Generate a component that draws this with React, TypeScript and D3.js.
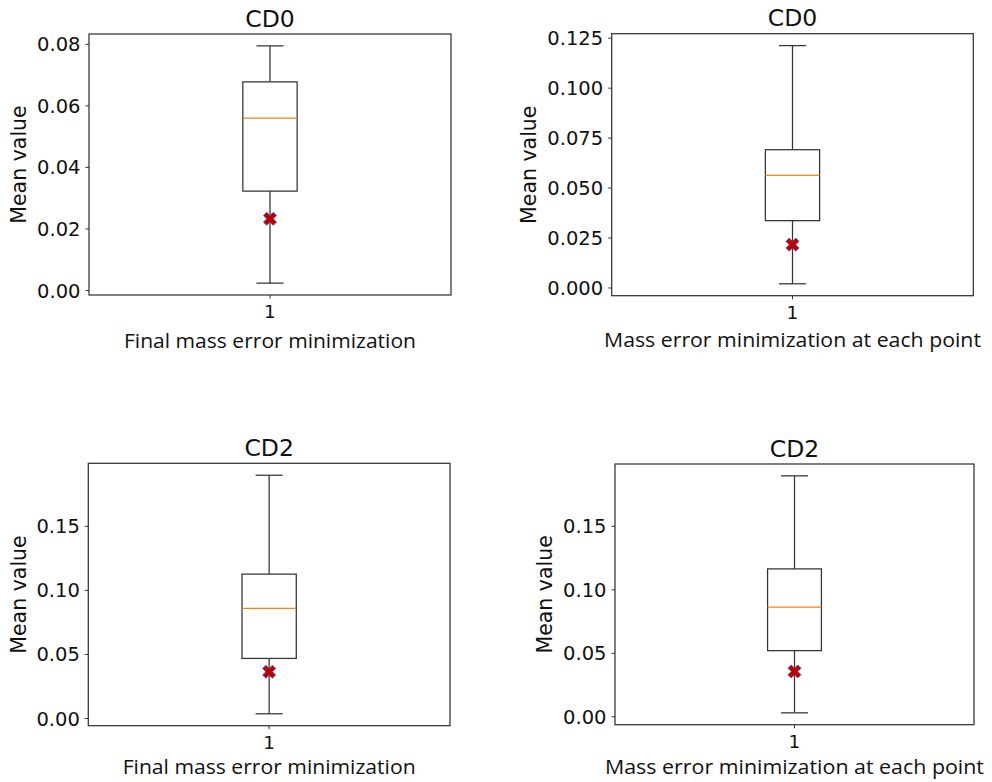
import React from "react";
import * as d3 from "d3";

// ---- data ----
const titles = ["CD0", "CD0", "CD2", "CD2"];
const xLabels = [
  "Final mass error minimization",
  "Mass error minimization at each point",
  "Final mass error minimization",
  "Mass error minimization at each point",
];
const categories = ["1"];
const whiskerLow = [0.0024, 0.0021, 0.0037, 0.0031];
const q1 = [0.0323, 0.0337, 0.0469, 0.0521];
const median = [0.056, 0.0564, 0.086, 0.0864];
const q3 = [0.0678, 0.0692, 0.1127, 0.1165];
const whiskerHigh = [0.0795, 0.1213, 0.1899, 0.1898];
const meanMarker = [0.0233, 0.0217, 0.0365, 0.0357];
const yTicks = [
  [0, 0.02, 0.04, 0.06, 0.08],
  [0, 0.025, 0.05, 0.075, 0.1, 0.125],
  [0, 0.05, 0.1, 0.15],
  [0, 0.05, 0.1, 0.15],
];
const yTickFormats = [".2f", ".3f", ".2f", ".2f"];

// ---- layout ----
const frames = [
  { x0: 89, x1: 451, y0: 34, y1: 295, yLabX: 26, xLabDy: 52.7, xLabLen: 292 },
  { x0: 611.7, x1: 973.3, y0: 33.7, y1: 295.7, yLabX: 536, xLabDy: 51.5, xLabLen: 377 },
  { x0: 88.3, x1: 450, y0: 463.3, y1: 725.7, yLabX: 25.7, xLabDy: 48.5, xLabLen: 293 },
  { x0: 615, x1: 974, y0: 464, y1: 724.7, yLabX: 552, xLabDy: 49, xLabLen: 379 },
];

const LINE = "#333";
const SW = 1.25;

function Panel({ i }: { i: number }) {
  const f = frames[i];
  const lo = whiskerLow[i];
  const hi = whiskerHigh[i];
  const pad = (hi - lo) * 0.05;
  const y = d3.scaleLinear().domain([lo - pad, hi + pad]).range([f.y1, f.y0]);
  const x = d3.scaleLinear().domain([0.5, 1.5]).range([f.x0, f.x1]);
  const fmt = d3.format(yTickFormats[i]);
  const cx = x(1);
  const bw = x(1 + 0.075) - x(1 - 0.075);
  const cw = x(1 + 0.0375) - x(1 - 0.0375);
  const marker = d3.symbol(d3.symbolCross, 106)() as string;
  const midX = (f.x0 + f.x1) / 2;
  const midY = (f.y0 + f.y1) / 2;
  return (
    <g>
      <text
        x={midX}
        y={f.y0 - 7.5}
        textAnchor="middle"
        fontFamily="DejaVu Sans"
        fontSize={23.5}
        fill="#111"
      >
        {titles[i]}
      </text>
      {/* y ticks */}
      {yTicks[i].map((t) => (
        <g key={t}>
          <line x1={f.x0 - 3.5} x2={f.x0} y1={y(t)} y2={y(t)} stroke={LINE} strokeWidth={1} />
          <text
            x={f.x0 - 8.5}
            y={y(t)}
            dy="0.36em"
            textAnchor="end"
            fontFamily="DejaVu Sans"
            fontSize={19.5}
            fill="#111"
          >
            {fmt(t)}
          </text>
        </g>
      ))}
      {/* x tick */}
      {categories.map((c, k) => (
        <g key={c}>
          <line x1={x(k + 1)} x2={x(k + 1)} y1={f.y1} y2={f.y1 + 3.5} stroke={LINE} strokeWidth={1} />
          <text
            x={x(k + 1)}
            y={f.y1 + 23}
            textAnchor="middle"
            fontFamily="DejaVu Sans"
            fontSize={18.5}
            fill="#111"
          >
            {c}
          </text>
        </g>
      ))}
      {/* y label */}
      <text
        transform={`translate(${f.yLabX},${midY}) rotate(-90)`}
        textAnchor="middle"
        fontFamily="DejaVu Sans"
        fontSize={20.5}
        fill="#111"
      >
        Mean value
      </text>
      {/* x label */}
      <text
        x={midX}
        y={f.y1 + f.xLabDy}
        textAnchor="middle"
        fontFamily="'Open Sans', 'Noto Sans', sans-serif"
        fontSize={20.5}
        textLength={f.xLabLen}
        lengthAdjust="spacingAndGlyphs"
        fill="#111"
      >
        {xLabels[i]}
      </text>
      {/* whiskers */}
      <line x1={cx} x2={cx} y1={y(q3[i])} y2={y(hi)} stroke={LINE} strokeWidth={SW} />
      <line x1={cx} x2={cx} y1={y(q1[i])} y2={y(lo)} stroke={LINE} strokeWidth={SW} />
      <line x1={cx - cw / 2} x2={cx + cw / 2} y1={y(hi)} y2={y(hi)} stroke={LINE} strokeWidth={SW} />
      <line x1={cx - cw / 2} x2={cx + cw / 2} y1={y(lo)} y2={y(lo)} stroke={LINE} strokeWidth={SW} />
      {/* box */}
      <rect
        x={cx - bw / 2}
        y={y(q3[i])}
        width={bw}
        height={y(q1[i]) - y(q3[i])}
        fill="none"
        stroke={LINE}
        strokeWidth={SW}
      />
      <line
        x1={cx - bw / 2}
        x2={cx + bw / 2}
        y1={y(median[i])}
        y2={y(median[i])}
        stroke="#ff7f0e"
        strokeWidth={SW}
      />
      {/* mean marker */}
      <path
        d={marker}
        transform={`translate(${cx},${y(meanMarker[i])}) rotate(45)`}
        fill="#c00000"
        stroke="#4a55a8"
        strokeWidth={0.8}
      />
      {/* frame */}
      <rect
        x={f.x0}
        y={f.y0}
        width={f.x1 - f.x0}
        height={f.y1 - f.y0}
        fill="none"
        stroke={LINE}
        strokeWidth={SW}
      />
    </g>
  );
}

export default function App() {
  return (
    <svg
      width={992}
      height={782}
      style={{ position: "absolute", left: 0, top: 0, background: "#fff" }}
    >
      <rect width={992} height={782} fill="#fff" />
      {titles.map((_, i) => (
        <Panel key={i} i={i} />
      ))}
    </svg>
  );
}
